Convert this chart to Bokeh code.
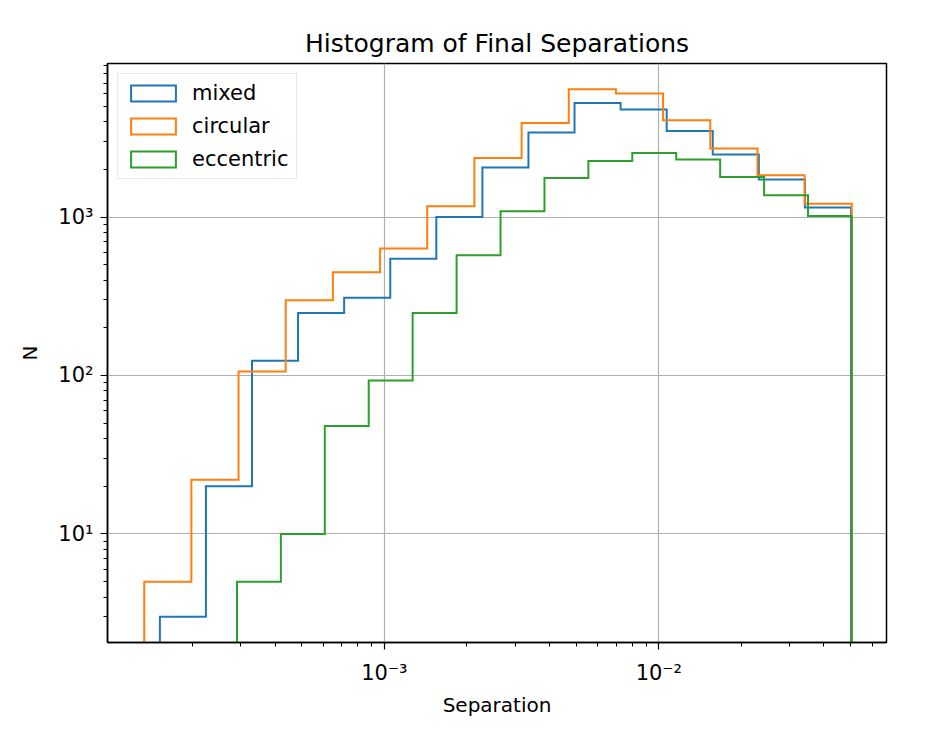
from bokeh.plotting import figure
from bokeh.models import Range1d, FixedTicker, CustomJSTickFormatter, Legend, LegendItem
from bokeh.embed import file_html
from bokeh.resources import INLINE

# ---------------- data ----------------
series_names = ["mixed", "circular", "eccentric"]
series_colors = ["#1f77b4", "#ff7f0e", "#2ca02c"]

mixed_edges = [1.521e-4, 2.238e-4, 3.294e-4, 4.849e-4, 7.138e-4, 1.051e-3,
               1.547e-3, 2.277e-3, 3.351e-3, 4.933e-3, 7.261e-3, 1.069e-2,
               1.573e-2, 2.316e-2, 3.409e-2, 5.02e-2]
mixed_counts = [3, 20, 124, 248, 310, 546, 1000, 2052, 3413, 5252, 4769,
                3494, 2479, 1723, 1147]

circular_edges = [1.334e-4, 1.981e-4, 2.943e-4, 4.371e-4, 6.494e-4, 9.649e-4,
                  1.433e-3, 2.129e-3, 3.164e-3, 4.700e-3, 6.982e-3, 1.037e-2,
                  1.541e-2, 2.290e-2, 3.401e-2, 5.05e-2]
circular_counts = [5, 22, 106, 298, 449, 632, 1168, 2358, 3925, 6408, 6018,
                   4082, 2705, 1834, 1215]

eccentric_edges = [2.904e-4, 4.198e-4, 6.068e-4, 8.773e-4, 1.268e-3, 1.834e-3,
                   2.651e-3, 3.833e-3, 5.540e-3, 8.009e-3, 1.158e-2, 1.674e-2,
                   2.420e-2, 3.499e-2, 5.05e-2]
eccentric_counts = [5, 10, 48, 93, 248, 573, 1086, 1764, 2258, 2537, 2304,
                    1789, 1371, 1015]

x_major_ticks = [1e-3, 1e-2]
x_minor_ticks = [2e-4, 3e-4, 4e-4, 5e-4, 6e-4, 7e-4, 8e-4, 9e-4,
                 2e-3, 3e-3, 4e-3, 5e-3, 6e-3, 7e-3, 8e-3, 9e-3,
                 2e-2, 3e-2, 4e-2, 5e-2, 6e-2]
y_major_ticks = [10, 100, 1000]
y_minor_ticks = [3, 4, 5, 6, 7, 8, 9,
                 20, 30, 40, 50, 60, 70, 80, 90,
                 200, 300, 400, 500, 600, 700, 800, 900,
                 2000, 3000, 4000, 5000, 6000, 7000, 8000, 9000]
x_limits = (9.8e-5, 0.0676)
y_limits = (2.065, 9310)

title_text = "Histogram of Final Separations"
x_label = "Separation"
y_label = "N"

all_edges = [mixed_edges, circular_edges, eccentric_edges]
all_counts = [mixed_counts, circular_counts, eccentric_counts]

FONT = "DejaVu Sans"

p = figure(x_axis_type="log", y_axis_type="log",
           x_range=Range1d(*x_limits), y_range=Range1d(*y_limits),
           frame_width=779, frame_height=579,
           min_border_left=107, min_border_right=37,
           min_border_top=63, min_border_bottom=91,
           output_backend="svg", toolbar_location=None,
           title=title_text, x_axis_label=x_label, y_axis_label=y_label)

p.background_fill_color = "white"
p.border_fill_color = "white"
p.outline_line_color = "black"
p.outline_line_width = 1.5
p.outline_line_alpha = 1.0

p.title.text_font = FONT
p.title.text_font_size = "25px"
p.title.text_font_style = "normal"
p.title.text_color = "black"
p.title.align = "center"
p.title.standoff = 12

sup = CustomJSTickFormatter(code="""
const m = {"-": "\u207b", "0": "\u2070", "1": "\u00b9", "2": "\u00b2", "3": "\u00b3",
           "4": "\u2074", "5": "\u2075", "6": "\u2076", "7": "\u2077", "8": "\u2078", "9": "\u2079"};
const e = Math.round(Math.log10(tick));
return "10" + String(e).split("").map(c => m[c]).join("");
""")

p.xaxis.ticker = FixedTicker(ticks=x_major_ticks, minor_ticks=x_minor_ticks)
p.yaxis.ticker = FixedTicker(ticks=y_major_ticks, minor_ticks=y_minor_ticks)
p.xgrid.ticker = FixedTicker(ticks=x_major_ticks)
p.ygrid.ticker = FixedTicker(ticks=y_major_ticks)

for ax in (p.xaxis, p.yaxis):
    ax.formatter = sup
    ax.major_label_text_font = FONT
    ax.major_label_text_font_size = "21px"
    ax.major_label_text_color = "black"
    ax.axis_label_text_font = FONT
    ax.axis_label_text_font_size = "20px"
    ax.axis_label_text_font_style = "normal"
    ax.axis_label_text_color = "black"
    ax.axis_line_color = "black"
    ax.axis_line_width = 1.5
    ax.major_tick_line_color = "black"
    ax.minor_tick_line_color = "black"
    ax.major_tick_line_width = 1.2
    ax.minor_tick_line_width = 1.0
    ax.major_tick_in = 0
    ax.major_tick_out = 7
    ax.minor_tick_in = 0
    ax.minor_tick_out = 4

p.xaxis.major_label_standoff = 11
p.xaxis.axis_label_standoff = 5
p.yaxis.major_label_standoff = 7
p.yaxis.axis_label_standoff = 13
p.yaxis.major_label_orientation = "horizontal"

for g in (p.xgrid, p.ygrid):
    g.grid_line_color = "#b0b0b0"
    g.grid_line_width = 1.2

base = y_limits[0] / 10.0

legend_items = []
for name, color, edges, counts in zip(series_names, series_colors, all_edges, all_counts):
    xs = [edges[0]]
    ys = [base]
    for i, c in enumerate(counts):
        xs += [edges[i], edges[i + 1]]
        ys += [c, c]
    xs.append(edges[len(counts)])
    ys.append(base)
    r = p.patch(x=xs, y=ys, fill_alpha=0, line_color=color, line_width=2,
                line_join="miter")
    legend_items.append(LegendItem(label=name, renderers=[r]))

legend = Legend(items=legend_items, location="top_left")
legend.margin = 10
legend.padding = 7
legend.spacing = 9
legend.glyph_width = 56
legend.glyph_height = 20
legend.label_standoff = 11
legend.label_text_font = FONT
legend.label_text_font_size = "21px"
legend.label_text_color = "black"
legend.border_line_color = "#d0d0d0"
legend.border_line_width = 1
legend.background_fill_color = "white"
legend.background_fill_alpha = 0.8
p.add_layout(legend, "center")

open("out.html", "w").write(file_html(p, INLINE))
